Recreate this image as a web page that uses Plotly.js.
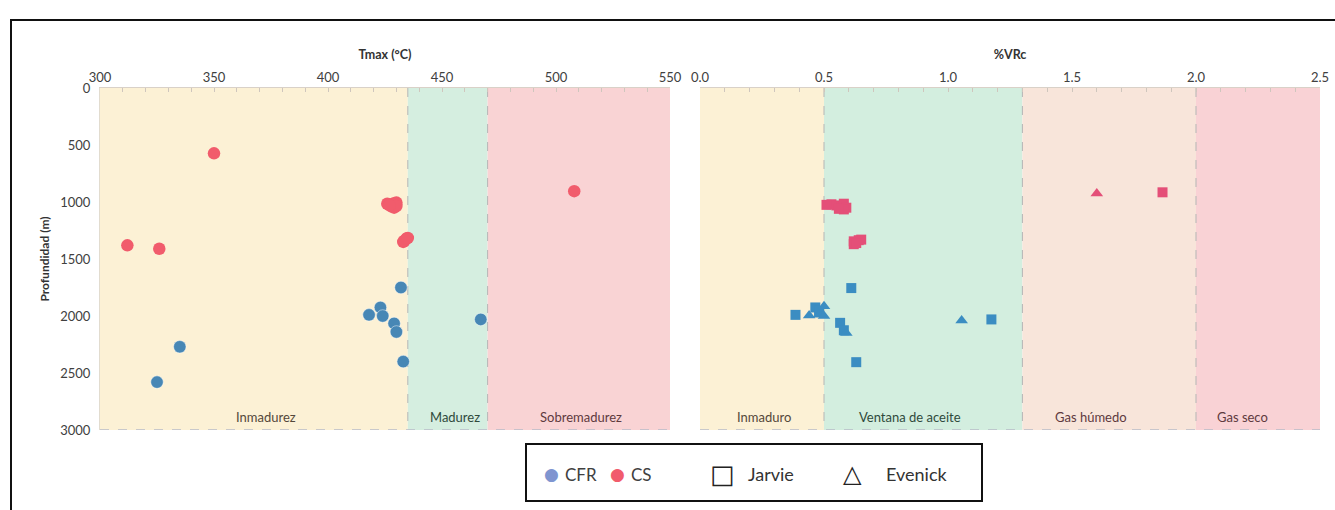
<!DOCTYPE html>
<html>
<head>
<meta charset="utf-8">
<script src="https://cdn.plot.ly/plotly-3.0.1.min.js"></script>
<style>html,body{margin:0;padding:0;background:#fff;}</style>
</head>
<body>
<div id="chart" style="width:1335px;height:510px;"></div>
<script>
// ---- Data: Tmax panel ----
const cfrTmax   = [432, 423, 418, 424, 429, 430, 433, 335, 325, 467];
const cfrTmaxDepth = [1750, 1925, 1990, 2000, 2065, 2140, 2400, 2270, 2580, 2030];
const csTmax    = [350, 312, 326, 426, 427, 429, 430, 428, 429, 430, 427, 433, 433.5, 434.5, 435, 508];
const csTmaxDepth = [573, 1380, 1410, 1015, 1020, 1010, 1005, 1040, 1050, 1035, 1030, 1350, 1340, 1320, 1315, 905];

// ---- Data: %VRc panel ----
const cfrJarvieVRc   = [0.61, 0.385, 0.465, 0.48, 0.565, 0.58, 1.175, 0.63];
const cfrJarvieDepth = [1755, 1990, 1925, 1955, 2060, 2125, 2030, 2405];
const cfrEvenickVRc   = [0.44, 0.48, 0.50, 0.50, 0.59, 1.055];
const cfrEvenickDepth = [1995, 1990, 1915, 2000, 2150, 2040];
const csJarvieVRc   = [0.51, 0.53, 0.55, 0.57, 0.58, 0.59, 0.58, 0.56, 0.62, 0.62, 0.64, 0.65, 0.63, 1.865];
const csJarvieDepth = [1025, 1020, 1030, 1040, 1015, 1050, 1065, 1060, 1370, 1345, 1335, 1330, 1360, 915];
const csEvenickVRc   = [1.60];
const csEvenickDepth = [925];

// ---- Zones ----
const tmaxZoneEdges = [300, 435, 470, 550];
const tmaxZoneNames = ['Inmadurez', 'Madurez', 'Sobremadurez'];
const tmaxLabelPos  = [373, 455.5, 511];
const vrcZoneEdges  = [0, 0.5, 1.3, 2.0, 2.5];
const vrcZoneNames  = ['Inmaduro', 'Ventana de aceite', 'Gas húmedo', 'Gas seco'];
const vrcLabelPos   = [0.257, 0.846, 1.578, 2.187];
const depthRange = [3000, 0];
const depthTicks = [0, 500, 1000, 1500, 2000, 2500, 3000];

const tmaxZoneColors = ['#fcf1d5', '#d5eee0', '#f9d3d4'];
const vrcZoneColors  = ['#fcf1d5', '#d3eedf', '#f8e5da', '#f9d2d5'];
const zoneTextColors = ['#54483a', '#2f4a3c', '#5e3a3e', '#5e3a3e'];

const BLUE = '#4787b5', RED = '#f15c6c';
const BLUE_SQ = '#3b8dc2', RED_SQ = '#e44f78';

const W = 1335, H = 510;
const px = v => v / W, py = v => 1 - v / H;

const traces = [
  {x: cfrTmax, y: cfrTmaxDepth, xaxis: 'x', yaxis: 'y', mode: 'markers', type: 'scatter', name: 'CFR',
   marker: {symbol: 'circle', size: 12.5, color: BLUE, line: {color: 'rgba(255,255,255,0.45)', width: 1}}},
  {x: csTmax, y: csTmaxDepth, xaxis: 'x', yaxis: 'y', mode: 'markers', type: 'scatter', name: 'CS',
   marker: {symbol: 'circle', size: 12.5, color: RED, line: {width: 0}}},
  {x: cfrJarvieVRc, y: cfrJarvieDepth, xaxis: 'x2', yaxis: 'y2', mode: 'markers', type: 'scatter', name: 'CFR Jarvie',
   marker: {symbol: 'square', size: 10, color: BLUE_SQ}},
  {x: cfrEvenickVRc, y: cfrEvenickDepth, xaxis: 'x2', yaxis: 'y2', mode: 'markers', type: 'scatter', name: 'CFR Evenick',
   marker: {symbol: 'triangle-up', size: 11, color: BLUE_SQ}},
  {x: csJarvieVRc, y: csJarvieDepth, xaxis: 'x2', yaxis: 'y2', mode: 'markers', type: 'scatter', name: 'CS Jarvie',
   marker: {symbol: 'square', size: 10, color: RED_SQ}},
  {x: csEvenickVRc, y: csEvenickDepth, xaxis: 'x2', yaxis: 'y2', mode: 'markers', type: 'scatter', name: 'CS Evenick',
   marker: {symbol: 'triangle-up', size: 11, color: RED_SQ}}
];

const shapes = [];
const annotations = [];

function addZones(edges, colors, names, labelPos, xref, yref) {
  for (let i = 0; i < names.length; i++) {
    shapes.push({type: 'rect', xref: xref, yref: yref, x0: edges[i], x1: edges[i + 1], y0: 0, y1: 3000,
      fillcolor: colors[i], line: {width: 0}, layer: 'below'});
    annotations.push({xref: xref, yref: yref, x: labelPos[i], y: 2890, text: names[i], showarrow: false,
      font: {size: 13, color: zoneTextColors[i]}});
  }
  for (let i = 1; i < edges.length - 1; i++) {
    shapes.push({type: 'line', xref: xref, yref: yref, x0: edges[i], x1: edges[i], y0: 0, y1: 3000,
      line: {color: '#b5b5b5', width: 1, dash: 'dash'}, layer: 'below'});
  }
  shapes.push({type: 'line', xref: xref, yref: yref, x0: edges[0], x1: edges[edges.length - 1], y0: 3000, y1: 3000,
    line: {color: '#b8bcc8', width: 1.5, dash: 'dash'}, layer: 'above'});
}
addZones(tmaxZoneEdges, tmaxZoneColors, tmaxZoneNames, tmaxLabelPos, 'x', 'y');
addZones(vrcZoneEdges, vrcZoneColors, vrcZoneNames, vrcLabelPos, 'x2', 'y2');

// outer frame
shapes.push({type: 'rect', xref: 'paper', yref: 'paper', x0: px(11), x1: px(1345), y0: py(525), y1: py(20),
  line: {color: '#111', width: 2}, fillcolor: 'rgba(0,0,0,0)'});
// legend box
shapes.push({type: 'rect', xref: 'paper', yref: 'paper', x0: px(526), x1: px(982), y0: py(501), y1: py(444),
  line: {color: '#111', width: 2}, fillcolor: 'rgba(0,0,0,0)'});

// legend content
const legendItems = [
  {x: 551, text: '●', color: '#7f95d0', size: 17},
  {x: 581, text: 'CFR', color: '#404040', size: 17},
  {x: 617, text: '●', color: RED, size: 17},
  {x: 641, text: 'CS', color: '#404040', size: 17},
  {x: 722, text: '□', color: '#222', size: 26},
  {x: 771, text: 'Jarvie', color: '#333', size: 18},
  {x: 852, text: '△', color: '#222', size: 24},
  {x: 916, text: 'Evenick', color: '#333', size: 18}
];
legendItems.forEach(it => annotations.push({xref: 'paper', yref: 'paper', x: px(it.x), y: py(474),
  text: it.text, showarrow: false, xanchor: 'center', yanchor: 'middle',
  font: {size: it.size, color: it.color, family: (it.text.length === 1 ? 'DejaVu Sans' : 'Lato, sans-serif')}}));

const axisCommon = {
  side: 'top', ticks: 'inside', ticklen: 4, tickcolor: '#cfc6bd', showline: true, linecolor: '#d9d1c8',
  showgrid: false, zeroline: false, tickfont: {size: 13, color: '#404040'}, fixedrange: true
};

const layout = {
  width: W, height: H, margin: {l: 0, r: 0, t: 0, b: 0},
  paper_bgcolor: '#ffffff', plot_bgcolor: 'rgba(0,0,0,0)', showlegend: false,
  font: {family: 'Lato, sans-serif', color: '#404040'},
  xaxis: Object.assign({}, axisCommon, {
    domain: [px(100), px(670)], range: [300, 550], anchor: 'y', dtick: 50, tick0: 300,
    minor: {dtick: 10, ticks: 'inside', ticklen: 4, tickcolor: '#cfc6bd'},
    title: {text: '<b>Tmax (°C)</b>', font: {size: 12.5, color: '#333'}, standoff: 6}
  }),
  xaxis2: Object.assign({}, axisCommon, {
    domain: [px(700), px(1320)], range: [0, 2.5], anchor: 'y2', dtick: 0.5, tick0: 0, tickformat: '.1f',
    minor: {dtick: 0.1, ticks: 'inside', ticklen: 4, tickcolor: '#cfc6bd'},
    title: {text: '<b>%VRc</b>', font: {size: 12.5, color: '#333'}, standoff: 6}
  }),
  yaxis: {
    domain: [py(430), py(88)], range: depthRange, anchor: 'x', tickvals: depthTicks,
    showgrid: false, zeroline: false, showline: true, linecolor: '#e2dccf', ticks: '',
    tickfont: {size: 13, color: '#404040'}, ticklabelstandoff: 6, fixedrange: true,
    title: {text: '<b>Profundidad (m)</b>', font: {size: 12, color: '#333'}, standoff: 8}
  },
  yaxis2: {
    domain: [py(430), py(88)], range: depthRange, anchor: 'x2',
    showgrid: false, zeroline: false, showticklabels: false, ticks: '', showline: false, fixedrange: true
  },
  shapes: shapes,
  annotations: annotations
};

Plotly.newPlot('chart', traces, layout, {displayModeBar: false, staticPlot: true});
</script>
</body>
</html>
